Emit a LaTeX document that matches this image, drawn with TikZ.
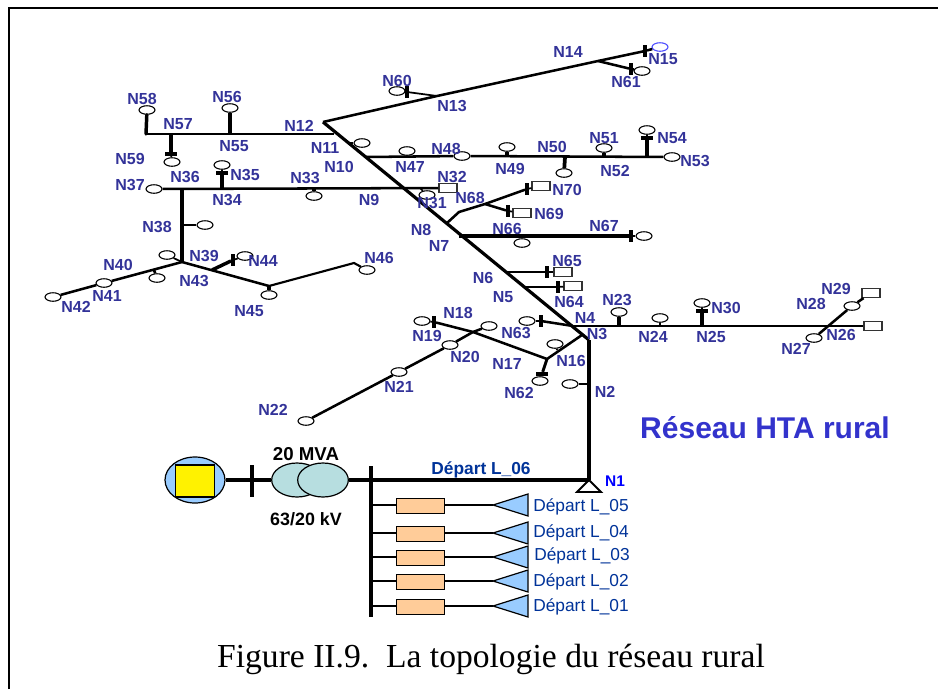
\documentclass[tikz,border=0pt]{standalone}
\usepackage{fontspec}
\setmainfont{Liberation Sans}
\newfontfamily\capfont{Liberation Serif}
\usetikzlibrary{shapes.geometric,backgrounds}
\definecolor{navylab}{RGB}{51,51,153}
\definecolor{deptxt}{RGB}{0,51,153}
\definecolor{reseau}{RGB}{51,51,204}
\definecolor{srcblue}{RGB}{153,204,255}
\definecolor{xfmr}{RGB}{183,222,224}
\definecolor{resist}{RGB}{255,204,153}
\tikzset{
  lab/.style={font=\fontsize{12}{13}\selectfont\bfseries,text=navylab,inner sep=0pt},
  dep/.style={font=\fontsize{13}{14}\selectfont,text=deptxt,inner sep=0pt},
  load/.style={ellipse,draw=black,fill=white,line width=0.8pt,minimum width=12pt,minimum height=6.4pt,inner sep=0pt},
  box/.style={rectangle,draw=black!80,fill=white,line width=0.8pt,minimum width=13.5pt,minimum height=6.8pt,inner sep=0pt},
  tickv/.style={rectangle,fill=black,draw=none,minimum width=2.6pt,minimum height=9.5pt,inner sep=0pt},
  tickh/.style={rectangle,fill=black,draw=none,minimum width=9.5pt,minimum height=2.8pt,inner sep=0pt},
  thin line/.style={draw=black,line width=1.3pt},
  med line/.style={draw=black,line width=1.9pt},
  thick line/.style={draw=black,line width=2.9pt},
  resbox/.style={rectangle,draw=black,fill=resist,line width=0.9pt,minimum width=36.5pt,minimum height=11pt,inner sep=0pt},
}
\begin{document}
\begin{tikzpicture}[x=0.75pt,y=-0.75pt]
\useasboundingbox (0,0) rectangle (938,689);
\fill[white] (0,0) rectangle (938,689);
\coordinate (fa) at (9,689); \coordinate (fb) at (9,8); \coordinate (fc) at (938,8);
\draw[black,line width=1.3pt] (fa) -- (fb) -- (fc);

% junctions
\foreach \n/\x/\y in {j12/323/122,j13/437/96,j14/598/61,j3/589/340,j1/589/480,
 j12h/334/134,jh58/146/134,jh57/171/134,jh56/230/134,
 jd11/350/143,jd47/366/157,s47/407/157,s49/507/157,s50/565/157,s52/604/157,s54/647/157,
 jd9/407/188,j37/164/188,j36/182/188,s35/222/188,s33/314/188,s31/420/188,j38m/182/225,
 j39/182/262,s40/154/270,j45/269/286,j43/212/270,j46/354/263,
 jd68/447/223,k68/459/212,j68/485/204,jd66/459/236,s66/522/236,
 jd65/507/272,jd64/525/287,jd4/573/326,s23/619/326,s24/660/326,s25/702/326,j27/830/326,
 jd3/582/335,j17/547/359,j18/473/332,s16/557/350,jv2/589/384}
  \coordinate (\n) at (\x,\y);

% loads
\foreach \n/\x/\y in {e60/397/91,e61/642/71,e58/147/110,e56/230/108,e59/172/162,e11/362/143,
 e47/407/151,e48/462/156,e49/507/147,e50/564/173,e52/604/148,e54/647/130,e53/672/157,
 e37/154/189,e35/222/165,e33/314/196,e31/427/195,e38/205/225,e39/167/255,e41/104/283,
 e42/53/297,e40/157/278,e45/269/295,e44/245/256,e46/367/270,e66/522/243,e67/644/236,
 e63/527/321,e23/619/312,e24/660/318,e30/702/303,e28/852/306,e27/814/338,e19/422/321,
 e18/489/326,e20/450/345,e21/399/372,e22/306/421,e16/555/344,e62/540/381,e2/570/384}
  \node[load] (\n) at (\x,\y) {};
\node[load,draw=blue!70!white] (e15) at (660,47) {};

% boxes
\foreach \n/\x/\y in {b32/448/188,b70/541/186,b69/522/213,b65/563/272,b64/573/286,b29/871/293,b26/873/326}
  \node[box] (\n) at (\x,\y) {};

% ticks
\foreach \n/\x/\y in {t15/645/51,t60/407/92,t61/631/69,t44/233/260,t70/527/189,t69/508/211,t67/631/236,t65/547/272,t64/558/287,t63/541/321,t19/434/322}
  \node[tickv] (\n) at (\x,\y) {};
\foreach \n/\x/\y in {t59/171/154,t54/647/138,t35/222/173,t25/702/311,t62/542/374}
  \node[tickh] (\n) at (\x,\y) {};

% upper feeder
\draw[med line] (j12) -- (j13) -- (j14) -- (t15) -- (e15);
\draw[thin line] (e60) -- (t60) -- (j13);
\draw[med line] (j14) -- (t61) -- (e61);
\draw[med line,line width=2.4pt] (j12) -- (j3);
\draw[thick line] (j3) -- (j1);
% N12 branch
\draw[med line] (j12h) -- (jh58);
\draw[thick line,line cap=round,line width=2.6pt] (jh58) -- (e58);
\draw[thick line,line width=2.6pt] (jh56) -- (e56);
\draw[thick line,line width=2.8pt] (jh57) -- (t59);
\draw[thin line] (t59) -- (e59);
\draw[thin line] (jd11) -- (e11);
% N47 branch
\draw[med line] (jd47) -- (e48);
\draw[med line] (e48) -- (e53);
\draw[thick line,line width=2pt] (s47) -- (e47);
\draw[thick line,line width=2.4pt] (s49) -- (e49);
\draw[thick line,line width=2.8pt] (s50) -- (e50);
\draw[thick line,line width=2.4pt] (s52) -- (e52);
\draw[thick line,line width=3pt] (s54) -- (t54);
\draw[thin line] (t54) -- (e54);
% N9 branch
\draw[med line] (e37) -- (b32);
\draw[thick line,line width=3pt] (s35) -- (t35);
\draw[thin line] (t35) -- (e35);
\draw[thick line,line width=2.4pt] (s33) -- (e33);
\draw[thin line] (s31) -- (e31);
\draw[thick line,line width=3pt] (j36) -- (j39);
\draw[thin line] (j38m) -- (e38);
\draw[thin line] (j39) -- (e39);
\draw[med line] (j39) -- (e41);
\draw[med line] (e41) -- (e42);
\draw[thick line,line width=2pt] (s40) -- (e40);
\draw[med line] (j39) -- (j45);
\draw[thick line,line width=2.4pt] (j45) -- (e45);
\draw[med line,line width=1.6pt] (j45) -- (j46) -- (e46);
\draw[thick line,line width=2.6pt] (j43) -- (t44);
\draw[thin line] (t44) -- (e44);
% N68
\draw[med line] (jd68) -- (k68) -- (j68) -- (t70);
\draw[thin line] (t70) -- (b70);
\draw[med line] (j68) -- (t69);
\draw[thin line] (t69) -- (b69);
\draw[thick line,line width=2.5pt] (jd66) -- (t67);
\draw[thin line] (t67) -- (e67);
\draw[thick line,line width=2pt] (s66) -- (e66);
\draw[med line] (jd65) -- (t65);
\draw[thin line] (t65) -- (b65);
\draw[med line] (jd64) -- (t64);
\draw[thin line] (t64) -- (b64);
% N4 line
\draw[med line] (e63) -- (t63);
\draw[med line] (t63) -- (jd4);
\draw[med line] (jd4) -- (b26);
\draw[thick line,line width=3pt] (s23) -- (e23);
\draw[thick line,line width=2.2pt] (s24) -- (e24);
\draw[thick line,line width=3pt] (s25) -- (t25);
\draw[thin line] (t25) -- (e30);
\draw[med line] (e27) -- (e28);
\draw[med line] (e28) -- (b29);
% N16..N22
\draw[med line] (jd3) -- (j17) -- (j18) -- (t19);
\draw[thin line] (t19) -- (e19);
\draw[thin line] (s16) -- (e16);
\draw[med line,line width=2.2pt] (j17) -- (t62);
\draw[thin line] (t62) -- (e62);
\draw[med line] (e18) -- (j18) -- (e20);
\draw[med line] (e20) -- (e21);
\draw[med line] (e21) -- (e22);
\draw[thin line] (jv2) -- (e2);

% N1
\coordinate (n1b) at (577,492); \coordinate (n1c) at (601,492);
\draw[black,line width=1.4pt,fill=white] (j1) -- (n1c) -- (n1b) -- cycle;

% source side
\node[ellipse,draw=black,fill=srcblue,line width=0.9pt,minimum width=45pt,minimum height=34.5pt,inner sep=0pt] (src) at (195,480) {};
\node[rectangle,draw=black,fill=yellow,line width=0.9pt,minimum width=29pt,minimum height=24pt,inner sep=0pt] (sq) at (195,481) {};
\node[rectangle,fill=black,minimum width=2.6pt,minimum height=24pt,inner sep=0pt] (brk) at (252,481) {};
\node[ellipse,draw=black,fill=xfmr,line width=0.9pt,minimum width=38pt,minimum height=25.5pt,inner sep=0pt] (tr1) at (297,480) {};
\node[ellipse,draw=black,fill=xfmr,line width=0.9pt,minimum width=38pt,minimum height=25.5pt,inner sep=0pt] (tr2) at (323,480) {};
\coordinate (busa) at (371,466); \coordinate (busb) at (371,617); \coordinate (busm) at (371,480);
\draw[black,line width=2.4pt] (busa) -- (busb);
\draw[thick line] (src) -- (tr1);
\draw[thick line] (tr2) -- (busm) -- (j1);

% feeders
\foreach \i/\y in {5/505,4/533,3/557,2/581,1/606}{
  \coordinate (bus\i) at (371,\y);
  \coordinate (tip\i) at (493,\y);
  \node[resbox] (res\i) at (420.5,\y+1) {};
  \draw[med line,line width=2.1pt] (bus\i) -- (res\i.west |- bus\i);
  \draw[med line,line width=2.1pt] (res\i.east |- bus\i) -- (tip\i);
  \draw[black,line width=0.9pt,fill=srcblue] (tip\i) -- ++(35,-11) -- ++(0,22) -- cycle;
}

% labels
\foreach \n/\x/\y in {58/142/99,56/227/97,57/178/124,55/234/146,12/299/126,11/325/148,10/339/167,
 60/397/81,13/452/106,14/568/52,15/663/59,61/626/82,59/130/159,37/130/185,36/185/177,35/245/175,
 34/227/200,33/305/178,9/369/200,47/410/167,48/446/149,49/510/169,50/552/147,51/604/138,52/615/171,
 54/672/138,53/695/161,32/452/177,31/432/203,68/470/198,70/567/190,69/549/214,66/507/229,67/604/226,
 8/421/230,7/439/246,38/157/227,39/204/256,44/263/261,40/118/265,41/107/296,42/76/307,43/194/281,
 45/249/311,46/379/258,65/567/261,64/569/302,6/483/278,5/503/297,4/585/318,3/597/334,23/617/300,
 24/653/337,25/711/337,30/726/308,29/836/289,28/811/304,26/841/335,27/796/349,63/516/333,18/458/313,
 19/427/336,20/465/357,17/507/364,16/571/361,62/519/393,21/399/387,22/273/410,2/605/392}
  \node[lab] (l\n) at (\x,\y) {N\n};
\node[lab,text=blue,font=\fontsize{11.6}{13}\selectfont\bfseries] (l1) at (615,481) {N1};

\node[dep,font=\fontsize{13}{14}\selectfont\bfseries] (d6) at (481,470) {Départ L\_06};
\node[dep] (d5) at (581,507) {Départ L\_05};
\node[dep] (d4) at (581,533) {Départ L\_04};
\node[dep] (d3) at (582,556) {Départ L\_03};
\node[dep] (d2) at (581,582) {Départ L\_02};
\node[dep] (d1) at (581,607) {Départ L\_01};

\node[inner sep=0pt,font=\fontsize{14}{15}\selectfont\bfseries] (mva) at (306,454) {20 MVA};
\node[inner sep=0pt,font=\fontsize{13.4}{15}\selectfont\bfseries] (kv) at (306,519) {63/20 kV};
\node[inner sep=0pt,text=reseau,font=\fontsize{22.5}{25}\selectfont\bfseries] (titre) at (765,428) {Réseau HTA rural};
\node[inner sep=0pt,font=\capfont\fontsize{25.2}{28}\selectfont] (cap) at (491,659) {Figure II.9.\ \ La topologie du réseau rural};
\end{tikzpicture}
\end{document}
